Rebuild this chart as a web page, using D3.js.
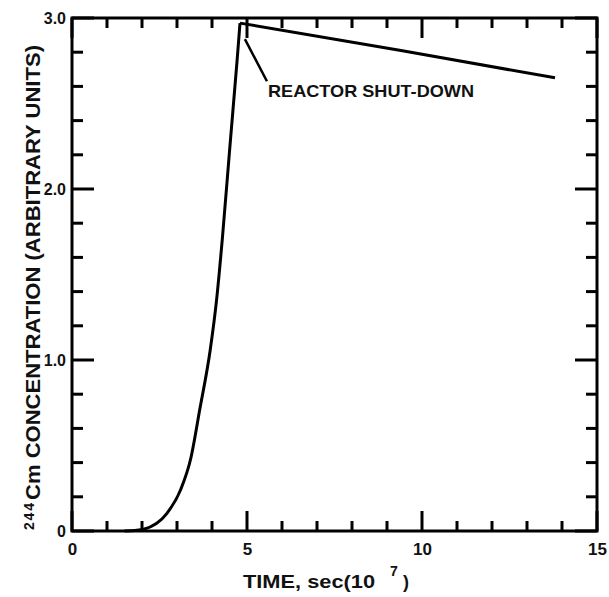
<!DOCTYPE html>
<html>
<head>
<meta charset="utf-8">
<script src="https://cdn.jsdelivr.net/npm/d3@7"></script>
<style>
  body { margin: 0; background: #fff; }
  svg text { font-family: "Liberation Sans", Arial, sans-serif; font-weight: bold; fill: #111; }
</style>
</head>
<body>
<div class="cm_plot"></div>
<script>
// rising part (reactor on), time in 1e7 sec
const riseTime = [1.5, 1.8, 2.05, 2.7, 3.1, 3.4, 3.65, 3.95, 4.13, 4.3, 4.5, 4.72, 4.8];
const riseConc = [0, 0.003, 0.01, 0.10, 0.24, 0.43, 0.71, 1.06, 1.35, 1.72, 2.22, 2.76, 2.97];
// decay after shut-down
const decayTime = [4.8, 9.4, 13.8];
const decayConc = [2.97, 2.81, 2.65];

const xMajor = [0, 5, 10, 15];
const xMinor = [1, 2, 3, 4, 6, 7, 8, 9, 11, 12, 13, 14];
const yMajor = [0, 1, 2, 3];
const yMinor = [0.2, 0.4, 0.6, 0.8, 1.2, 1.4, 1.6, 1.8, 2.2, 2.4, 2.6, 2.8];

// annotation (data coords)
const leader = [[4.94, 2.876], [5.57, 2.63]];
const noteAt = [5.6, 2.54];
const noteText = 'REACTOR  SHUT-DOWN';

const margin = {top: 18, right: 12, bottom: 66, left: 72};
const width = 609 - margin.left - margin.right,
      height = 597 - margin.top - margin.bottom;

const xScale = d3.scaleLinear().domain([0, 15]).range([0, width]);
const yScale = d3.scaleLinear().domain([0, 3]).range([height, 0]);

const svg = d3.select('.cm_plot')
              .append('svg')
              .attr('width', width + margin.left + margin.right)
              .attr('height', height + margin.top + margin.bottom)
              .append('g')
              .attr('transform', 'translate(' + margin.left + ',' + margin.top + ')');

const ink = 'black';
const sw = 3;
const yFmt = d => d === 0 ? '0' : d3.format('.1f')(d);

// tick labels from the axes (tick marks drawn by hand below)
svg.append('g')
   .attr('transform', `translate(0, ${height})`)
   .call(d3.axisBottom(xScale).tickValues(xMajor).tickSize(0).tickPadding(12).tickFormat(d3.format('d')))
   .call(g => g.select('.domain').remove())
   .selectAll('text').attr('font-size', 17);
svg.append('g')
   .call(d3.axisLeft(yScale).tickValues(yMajor).tickSize(0).tickPadding(6).tickFormat(yFmt))
   .call(g => g.select('.domain').remove())
   .selectAll('text').attr('font-size', 16);

// frame
svg.append('rect')
   .attr('width', width).attr('height', height)
   .attr('fill', 'none').attr('stroke', ink).attr('stroke-width', sw);

// curve
const rise = riseTime.map((t, i) => [t, riseConc[i]]);
const decay = decayTime.map((t, i) => [t, decayConc[i]]);
const curve = d3.line().x(d => xScale(d[0])).y(d => yScale(d[1]));

svg.append('path')
   .datum(rise)
   .attr('d', curve.curve(d3.curveMonotoneX))
   .attr('fill', 'none').attr('stroke', ink).attr('stroke-width', 3);
svg.append('path')
   .datum(decay)
   .attr('d', curve.curve(d3.curveLinear))
   .attr('fill', 'none').attr('stroke', ink).attr('stroke-width', 3);

// annotation
svg.append('line')
   .attr('x1', xScale(leader[0][0])).attr('y1', yScale(leader[0][1]))
   .attr('x2', xScale(leader[1][0])).attr('y2', yScale(leader[1][1]))
   .attr('stroke', ink).attr('stroke-width', 2.5);
svg.append('text')
   .attr('x', xScale(noteAt[0]))
   .attr('y', yScale(noteAt[1]))
   .attr('font-size', 17)
   .attr('textLength', 206)
   .attr('lengthAdjust', 'spacingAndGlyphs')
   .text(noteText);

// x title
const xt = svg.append('text')
   .attr('y', height + 57)
   .attr('font-size', 18);
xt.append('tspan').attr('x', 171).attr('textLength', 132).attr('lengthAdjust', 'spacingAndGlyphs').text('TIME, sec(10');
xt.append('tspan').attr('x', 318).attr('dy', -12).attr('font-size', 14).text('7');
xt.append('tspan').attr('x', 331).attr('dy', 12).text(')');

// y title
svg.append('text')
   .attr('transform', `translate(-38, ${height - 1}) rotate(-90)`)
   .attr('font-size', 14)
   .attr('textLength', 27)
   .text('244');
svg.append('text')
   .attr('transform', `translate(-32, ${height - 31}) rotate(-90)`)
   .attr('font-size', 21)
   .attr('textLength', 455)
   .attr('lengthAdjust', 'spacingAndGlyphs')
   .text('Cm  CONCENTRATION  (ARBITRARY  UNITS)');

// inward ticks on all four sides
function xTicks(vals, len) {
  svg.append('g').selectAll('line').data(vals).join('line')
     .attr('x1', d => xScale(d)).attr('x2', d => xScale(d))
     .attr('y1', height).attr('y2', height - len)
     .attr('stroke', ink).attr('stroke-width', sw);
  svg.append('g').selectAll('line').data(vals).join('line')
     .attr('x1', d => xScale(d)).attr('x2', d => xScale(d))
     .attr('y1', 0).attr('y2', len)
     .attr('stroke', ink).attr('stroke-width', sw);
}
function yTicks(vals, len) {
  svg.append('g').selectAll('line').data(vals).join('line')
     .attr('y1', d => yScale(d)).attr('y2', d => yScale(d))
     .attr('x1', 0).attr('x2', len)
     .attr('stroke', ink).attr('stroke-width', sw);
  svg.append('g').selectAll('line').data(vals).join('line')
     .attr('y1', d => yScale(d)).attr('y2', d => yScale(d))
     .attr('x1', width).attr('x2', width - len)
     .attr('stroke', ink).attr('stroke-width', sw);
}
xTicks(xMajor, 20);
xTicks(xMinor, 10);
yTicks(yMajor, 22);
yTicks(yMinor, 11);
</script>
</body>
</html>
